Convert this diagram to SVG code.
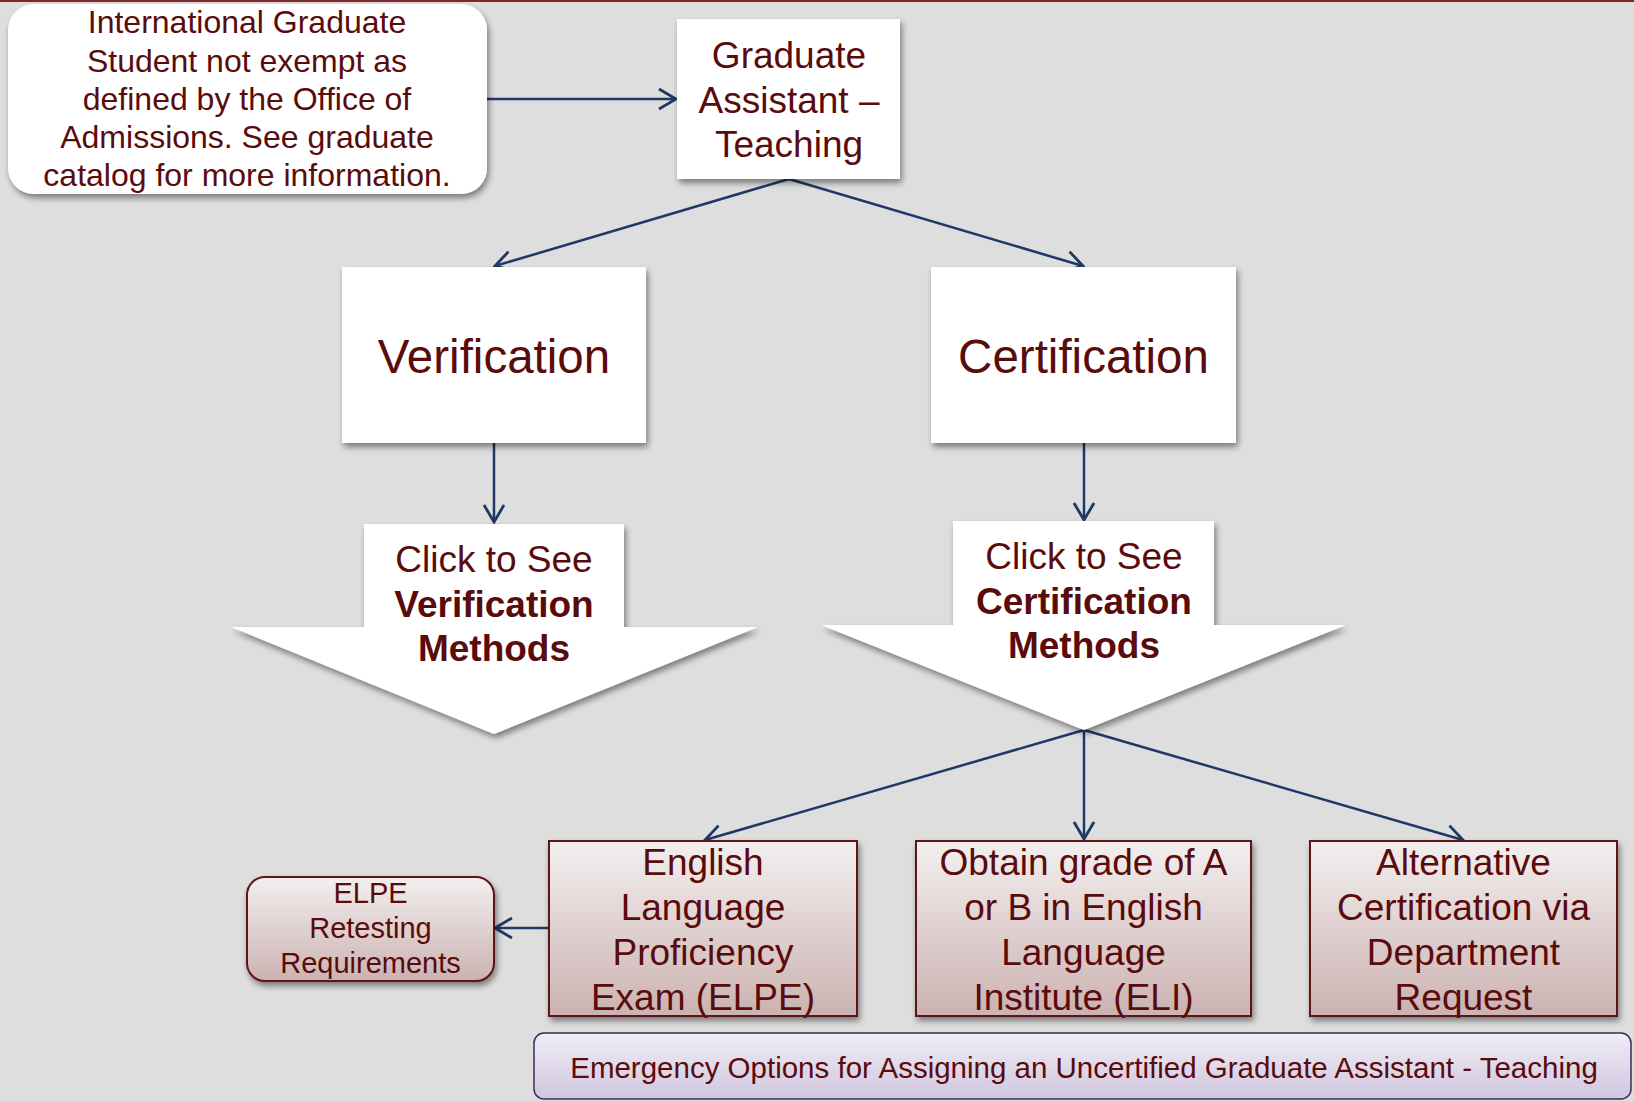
<svg xmlns="http://www.w3.org/2000/svg" width="1634" height="1101" viewBox="0 0 1634 1101">
<defs>
  <filter id="sh" x="-10%" y="-10%" width="125%" height="130%">
    <feGaussianBlur in="SourceAlpha" stdDeviation="3"/>
    <feOffset dx="2" dy="4" result="b"/>
    <feComponentTransfer><feFuncA type="linear" slope="0.45"/></feComponentTransfer>
    <feMerge><feMergeNode/><feMergeNode in="SourceGraphic"/></feMerge>
  </filter>
  <linearGradient id="rose" x1="0" y1="0" x2="0" y2="1">
    <stop offset="0" stop-color="#F3EFEF"/>
    <stop offset="1" stop-color="#CCB2B2"/>
  </linearGradient>
  <linearGradient id="lav" x1="0" y1="0" x2="0" y2="1">
    <stop offset="0" stop-color="#F0EDF5"/>
    <stop offset="1" stop-color="#D0C6E0"/>
  </linearGradient>
  <marker id="arr" viewBox="0 0 22 24" refX="19.5" refY="12" markerWidth="22" markerHeight="24" markerUnits="userSpaceOnUse" orient="auto">
    <path d="M2.5,2 L19.5,12 L2.5,22" fill="none" stroke="#1F3864" stroke-width="2.8" stroke-linejoin="miter"/>
  </marker>
  <style>
    .t{font-family:"Liberation Sans",Arial,sans-serif;fill:#5A0B0B;text-anchor:middle}
    .wb{fill:#FFFFFF;filter:url(#sh)}
    .rb{fill:url(#rose);stroke:#5C1212;stroke-width:2;filter:url(#sh)}
    .c{stroke:#1F3864;stroke-width:2.5;fill:none;marker-end:url(#arr)}
  </style>
</defs>
<rect width="1634" height="1101" fill="#DEDEDE"/>
<rect width="1634" height="2" fill="#7B2A2A"/>

<g id="connectors">
  <line class="c" x1="487" y1="99" x2="676" y2="99"/>
  <line class="c" x1="789" y1="179" x2="495" y2="266"/>
  <line class="c" x1="789" y1="179" x2="1083" y2="266"/>
  <line class="c" x1="494" y1="443" x2="494" y2="522"/>
  <line class="c" x1="1084" y1="443" x2="1084" y2="520"/>
  <line class="c" x1="1084" y1="730" x2="705" y2="840"/>
  <line class="c" x1="1084" y1="730" x2="1084" y2="839"/>
  <line class="c" x1="1084" y1="730" x2="1463" y2="840"/>
  <line class="c" x1="549" y1="928" x2="495" y2="928"/>
</g>

<g id="intl">
  <rect class="wb" x="8" y="4" width="479" height="190" rx="26"/>
  <text class="t" font-size="32"><tspan x="247" y="33">International Graduate</tspan><tspan x="247" y="72">Student not exempt as</tspan><tspan x="247" y="110">defined by the Office of</tspan><tspan x="247" y="148">Admissions. See graduate</tspan><tspan x="247" y="186">catalog for more information.</tspan></text>
</g>

<g id="gat">
  <rect class="wb" x="677" y="19" width="223" height="160"/>
  <text class="t" font-size="37"><tspan x="789" y="68">Graduate</tspan><tspan x="789" y="113">Assistant –</tspan><tspan x="789" y="157">Teaching</tspan></text>
</g>

<g id="verification">
  <rect class="wb" x="342" y="267" width="304" height="176"/>
  <text class="t" font-size="47.5" x="494" y="373">Verification</text>
</g>

<g id="certification">
  <rect class="wb" x="931" y="267" width="305" height="176"/>
  <text class="t" font-size="47.5" x="1083.5" y="373">Certification</text>
</g>

<g id="ver-methods">
  <polygon class="wb" points="364,524 624,524 624,627 758,627 494,734 231,627 364,627"/>
  <text class="t" font-size="37"><tspan x="494" y="572">Click to See</tspan><tspan x="494" y="617" font-weight="bold">Verification</tspan><tspan x="494" y="661" font-weight="bold">Methods</tspan></text>
</g>

<g id="cert-methods">
  <polygon class="wb" points="953,521 1214,521 1214,625 1346,625 1084,730 821,625 953,625"/>
  <text class="t" font-size="37"><tspan x="1084" y="569">Click to See</tspan><tspan x="1084" y="614" font-weight="bold">Certification</tspan><tspan x="1084" y="658" font-weight="bold">Methods</tspan></text>
</g>

<g id="elpe">
  <rect class="rb" x="549" y="841" width="308" height="175"/>
  <text class="t" font-size="37"><tspan x="703" y="875">English</tspan><tspan x="703" y="920">Language</tspan><tspan x="703" y="965">Proficiency</tspan><tspan x="703" y="1010">Exam (ELPE)</tspan></text>
</g>

<g id="eli">
  <rect class="rb" x="916" y="841" width="335" height="175"/>
  <text class="t" font-size="37"><tspan x="1083.5" y="875">Obtain grade of A</tspan><tspan x="1083.5" y="920">or B in English</tspan><tspan x="1083.5" y="965">Language</tspan><tspan x="1083.5" y="1010">Institute (ELI)</tspan></text>
</g>

<g id="alt">
  <rect class="rb" x="1310" y="841" width="307" height="175"/>
  <text class="t" font-size="37"><tspan x="1463.5" y="875">Alternative</tspan><tspan x="1463.5" y="920">Certification via</tspan><tspan x="1463.5" y="965">Department</tspan><tspan x="1463.5" y="1010">Request</tspan></text>
</g>

<g id="retest">
  <rect class="rb" x="247" y="877" width="247" height="104" rx="18"/>
  <text class="t" font-size="29"><tspan x="370.5" y="903">ELPE</tspan><tspan x="370.5" y="938">Retesting</tspan><tspan x="370.5" y="973">Requirements</tspan></text>
</g>

<g id="emergency">
  <rect x="534" y="1033" width="1097" height="66" rx="10" fill="url(#lav)" stroke="#3F2A56" stroke-width="1.5"/>
  <text class="t" font-size="29.5" x="1084" y="1078">Emergency Options for Assigning an Uncertified Graduate Assistant - Teaching</text>
</g>
</svg>
